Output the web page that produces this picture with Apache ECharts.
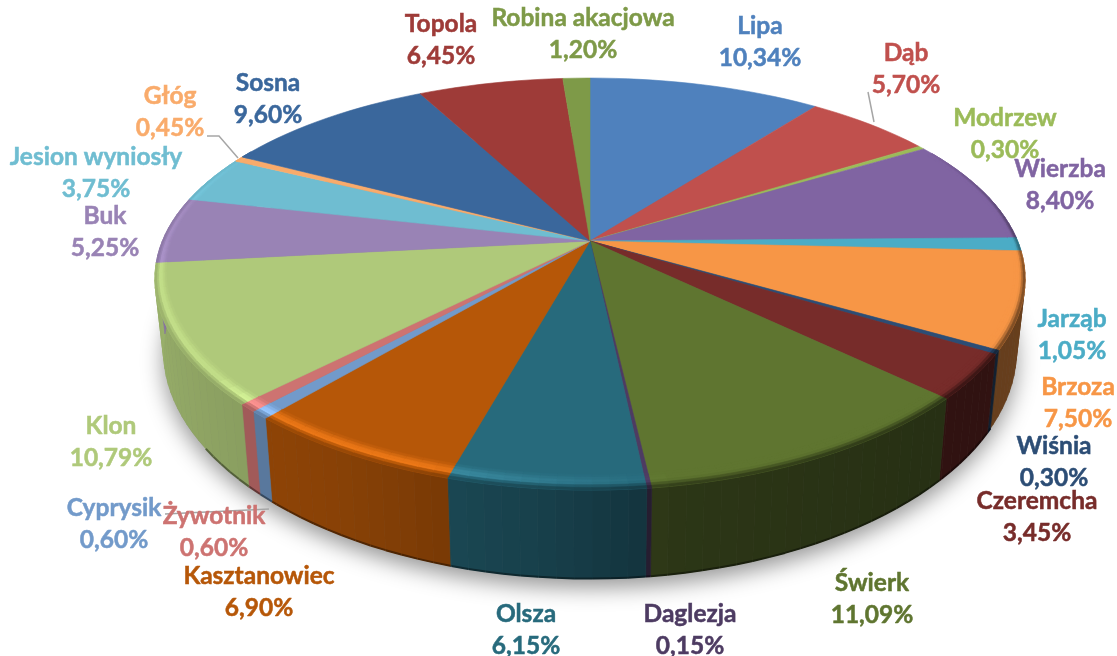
<!DOCTYPE html>
<html>
<head>
<meta charset="utf-8">
<style>html,body{margin:0;padding:0;background:#fff}#c{width:1117px;height:656px;filter:blur(0.4px)}</style>
<script src="https://cdn.jsdelivr.net/npm/echarts@6/dist/echarts.min.js"></script>
</head>
<body>
<div id="c"></div>
<script>
// ---- data ----
const categories = ['Lipa','Dąb','Modrzew','Wierzba','Jarząb','Brzoza','Wiśnia','Czeremcha','Świerk','Daglezja','Olsza','Kasztanowiec','Cyprysik','Żywotnik','Klon','Buk','Jesion wyniosły','Głóg','Sosna','Topola','Robina akacjowa'];
const shares = [10.34,5.70,0.30,8.40,1.05,7.50,0.30,3.45,11.09,0.15,6.15,6.90,0.60,0.60,10.79,5.25,3.75,0.45,9.60,6.45,1.20];
// ---- styles ----
const colors = ['#4F81BD','#C0504D','#9BBB59','#8064A2','#4BACC6','#F79646','#2C4D75','#772C2A','#5F7530','#4D3B62','#276A7C','#B65708','#729ACA','#CD7371','#AFC97A','#9983B5','#6FBDD1','#F9AB6B','#3A679C','#9E3B38','#7E9A48'];
// centre of each two-line label block
const labelPlaces = [[760,42],[906,69],[1005,134],[1060,185],[1072,335],[1078,403],[1054,462],[1037,517],[872,599],[690,630],[526,630],[259,592],[114,524],[214,532],[111,442],[105,232],[96,173],[170,112],[268,99],[441,40],[583,34]];
const leaderLines = [[[868,92],[874,122]],[[207,136],[219,136],[238,158]],[[165,514],[269,509]]];
// ---- projection of the tilted disc ----
const CX=590, CY=241, RX=427.6, RY=197, PX=0.185, PY=0.209, H=70, LOWER=0.98;
const total = shares.reduce((a,b)=>a+b,0);
const starts = []; shares.reduce((a,b,i)=>{starts[i]=a; return a+b;},0);
const toDeg = s => s/total*360;
function proj(deg,r,lower){
  const t=deg*Math.PI/180,u=r*Math.sin(t),v=-r*Math.cos(t),wx=1-PX*v,wy=1-PY*v;
  return lower ? [CX+LOWER*RX*u/wx, CY+(RY*v+H)/wy] : [CX+RX*u/wx, CY+RY*v/wy];
}
function table(tb,x){
  if(x<=tb[0][0]) return tb[0][1];
  for(let i=1;i<tb.length;i++) if(x<=tb[i][0]){
    const a=tb[i-1],b=tb[i]; return a[1]+(b[1]-a[1])*(x-a[0])/(b[0]-a[0]);
  }
  return tb[tb.length-1][1];
}
const wallShade=[[60,1],[80,.7],[100,.43],[130,.40],[170,.46],[185,.6],[210,.75],[250,.85],[275,.9],[300,1]];
const rimHigh=[[170,1],[200,1.27],[221,1.25],[232,1.1],[265,1.1],[300,1]];
function shade(hex,f){
  const n=parseInt(hex.slice(1),16);
  const ch=[n>>16,(n>>8)&255,n&255].map(c=>{
    const o=f>1?c*f+60*(f-1):c*f; return Math.max(0,Math.min(255,Math.round(o)));
  });
  return 'rgb('+ch.join(',')+')';
}
const STEP=2;
function arcSteps(a0,a1){
  const out=[a0]; let a=a0;
  while(a+STEP<a1){a+=STEP;out.push(a);}
  out.push(a1); return out;
}
function rows(){return shares.map(v=>[v]);}
function plain(points,fill){
  return {type:'polygon',silent:true,shape:{points},style:{fill,stroke:fill,lineWidth:.6}};
}
// shadow under the disc
function renderShadow(){
  const pts=[];for(let a=0;a<360;a+=3)pts.push(proj(a,1,true));
  return {type:'polygon',silent:true,shape:{points:pts},style:{fill:'#777',shadowColor:'rgba(0,0,0,.42)',shadowBlur:22,shadowOffsetY:9}};
}
// outer cylinder wall of a slice
function renderWall(params,api){
  const i=params.dataIndex,a0=toDeg(starts[i]),a1=a0+toDeg(api.value(0));
  const st=arcSteps(a0,a1),children=[];
  for(let k=0;k<st.length-1;k++){
    const s=st[k],e=st[k+1],m=(s+e)/2;
    if(m<60||m>300) continue;
    const sh=table(wallShade,m);
    children.push(plain([proj(s,1,false),proj(e,1,false),proj(e,1,true),proj(s,1,true)],shade(colors[i],sh)));
    if(m>120&&m<235) children.push({type:'polyline',silent:true,shape:{points:[proj(s,1,true),proj(e,1,true)]},
      style:{fill:'none',stroke:shade(colors[i],sh*.6),lineWidth:2}});
  }
  return {type:'group',children};
}
// flat top of a slice
function renderTop(params,api){
  const i=params.dataIndex,a0=toDeg(starts[i]),a1=a0+toDeg(api.value(0));
  const pts=[proj(0,0,false)];
  arcSteps(a0,a1).forEach(a=>pts.push(proj(a,1,false)));
  return plain(pts,colors[i]);
}
// rounded edge of a slice
function renderBevel(params,api){
  const i=params.dataIndex,a0=toDeg(starts[i]),a1=a0+toDeg(api.value(0));
  const st=arcSteps(a0,a1),children=[],N=6;
  for(let k=0;k<st.length-1;k++){
    const s=st[k],e=st[k+1],m=(s+e)/2;
    if(m<60||m>300) continue;
    const bw=.02+.03*Math.max(-Math.cos(m*Math.PI/180),0);
    const wall=table(wallShade,m),hi=table(rimHigh,m);
    const rad=t=>1-bw*(1-t);
    for(let n=0;n<N;n++){
      const t0=n/N,t1=(n+1)/N,t=(t0+t1)/2;
      const f=t<.55?1+(hi-1)*t/.55:hi+(wall-hi)*(t-.55)/.45;
      const c=shade(colors[i],f);
      children.push(plain([proj(s,rad(t0),false),proj(e,rad(t0),false),proj(e,rad(t1),false),proj(s,rad(t1),false)],c));
    }
  }
  return {type:'group',children};
}
function fmt(v){return v.toFixed(2).replace('.',',')+'%';}
function renderLabel(params,api){
  const i=params.dataIndex,p=labelPlaces[i];
  return {type:'text',silent:true,style:{x:p[0],y:p[1],text:categories[i]+'\n'+fmt(api.value(0)),
    fill:colors[i],stroke:colors[i],lineWidth:.5,font:'bold 24.5px Lato',lineHeight:32,align:'center',verticalAlign:'middle'}};
}
function renderLeader(params){
  return {type:'polyline',silent:true,shape:{points:leaderLines[params.dataIndex]},style:{fill:'none',stroke:'#a6a6a6',lineWidth:1.5}};
}
const chart=echarts.init(document.getElementById('c'),null,{renderer:'canvas'});
chart.setOption({
  backgroundColor:'#fff',animation:false,
  series:[
    {type:'custom',coordinateSystem:'none',data:[[0]],renderItem:renderShadow,z:1,silent:true},
    {type:'custom',coordinateSystem:'none',data:rows(),renderItem:renderWall,z:2,silent:true},
    {type:'custom',coordinateSystem:'none',data:rows(),renderItem:renderTop,z:3,silent:true},
    {type:'custom',coordinateSystem:'none',data:rows(),renderItem:renderBevel,z:4,silent:true},
    {type:'custom',coordinateSystem:'none',data:leaderLines.map((l,i)=>[i]),renderItem:renderLeader,z:5,silent:true},
    {type:'custom',coordinateSystem:'none',data:rows(),renderItem:renderLabel,z:6,silent:true}
  ]
});
</script>
</body>
</html>
